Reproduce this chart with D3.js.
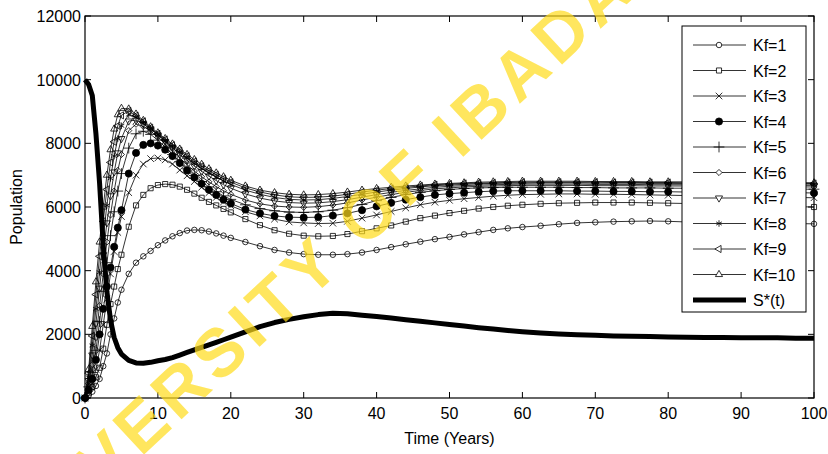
<!DOCTYPE html>
<html>
<head>
<meta charset="utf-8">
<script src="https://cdn.jsdelivr.net/npm/d3@7"></script>
<style>
  body { margin: 0; background: #fff; }
  svg { display: block; font-family: "Liberation Sans", Arial, Helvetica, sans-serif; }
</style>
</head>
<body>
<svg width="828" height="454"></svg>
<script>
// time points (years)
const T = [0,0.5,1,1.5,2,2.5,3,3.5,4,4.5,5,
  6,7,8,9,10,11,12,13,14,15,16,17,18,19,20,
  22,24,26,28,30,32,34,36,38,40,42,44,46,48,50,52,54,56,58,60,
  62.5,65,67.5,70,72.5,75,77.5,80,82.5,85,87.5,90,92.5,95,97.5,100];

const kf1 = [0,80,200,380,600,1000,1400,2000,2500,3000,3400,
  3900,4250,4450,4620,4800,4950,5080,5180,5260,5280,5270,5230,5170,5100,5030,
  4900,4770,4650,4570,4520,4500,4500,4520,4570,4650,4740,4830,4910,4990,5060,5140,5210,5280,5330,5370,
  5410,5460,5500,5520,5540,5550,5560,5550,5530,5520,5510,5500,5500,5490,5480,5470];
const kf2 = [0,150,350,650,950,1550,2300,2950,3500,4050,4500,
  5380,6050,6380,6590,6690,6720,6700,6640,6540,6420,6290,6160,6050,5940,5830,
  5620,5430,5270,5160,5100,5080,5090,5150,5240,5330,5420,5540,5650,5730,5810,5880,5950,6000,6040,6070,
  6100,6120,6130,6140,6140,6140,6130,6120,6110,6100,6080,6060,6050,6030,6010,6000];
const kf3 = [0,200,450,900,1500,2300,3100,3900,4600,5200,5700,
  6450,7000,7350,7520,7540,7480,7350,7160,6980,6800,6620,6450,6300,6160,6040,
  5850,5720,5620,5530,5500,5480,5490,5550,5650,5750,5860,5970,6070,6150,6210,6260,6300,6340,6370,6390,
  6400,6410,6410,6400,6400,6390,6380,6370,6360,6350,6340,6330,6320,6310,6300,6290];
const kf4 = [0,250,600,1200,2000,2800,3500,4100,4750,5350,5900,
  7050,7700,7950,8000,7930,7800,7600,7380,7150,6930,6730,6540,6380,6230,6110,
  5920,5800,5720,5680,5670,5680,5730,5800,5900,6020,6130,6230,6310,6380,6420,6450,6480,6500,6510,6510,
  6510,6510,6500,6500,6490,6490,6480,6480,6470,6470,6460,6460,6460,6450,6450,6440];
const kf5 = [0,350,800,1500,2400,3350,4250,5100,5850,6500,7050,
  7850,8300,8380,8280,8100,7880,7650,7420,7200,6990,6800,6630,6480,6350,6240,
  6070,5950,5880,5840,5830,5850,5900,5980,6080,6200,6300,6390,6460,6510,6550,6580,6600,6610,6620,6620,
  6620,6620,6610,6610,6600,6600,6600,6590,6590,6580,6580,6570,6570,6570,6560,6560];
const kf6 = [0,450,1050,1900,2900,3900,4900,5750,6500,7150,7650,
  8400,8600,8530,8380,8190,7980,7760,7540,7330,7130,6950,6790,6640,6510,6400,
  6220,6100,6030,6000,5990,6010,6060,6130,6220,6310,6390,6460,6520,6570,6600,6630,6650,6660,6670,6680,
  6680,6680,6680,6670,6670,6670,6660,6660,6660,6650,6650,6640,6640,6640,6630,6630];
const kf7 = [0,550,1350,2350,3450,4500,5500,6350,7100,7700,8150,
  8700,8730,8610,8450,8260,8060,7860,7660,7470,7290,7120,6970,6830,6700,6590,
  6410,6280,6190,6140,6120,6130,6170,6230,6310,6390,6460,6520,6570,6620,6650,6670,6690,6700,6710,6720,
  6720,6720,6720,6710,6710,6710,6700,6700,6700,6700,6690,6690,6690,6680,6680,6680];
const kf8 = [0,650,1650,2800,3950,5050,6050,6900,7600,8150,8550,
  8900,8820,8660,8470,8280,8090,7900,7720,7540,7370,7210,7070,6940,6820,6710,
  6530,6400,6300,6240,6220,6230,6270,6330,6400,6470,6530,6580,6630,6670,6690,6710,6730,6740,6750,6750,
  6760,6760,6760,6750,6750,6750,6740,6740,6740,6740,6730,6730,6730,6720,6720,6720];
const kf9 = [0,780,1950,3250,4450,5550,6550,7400,8050,8550,8880,
  9020,8870,8690,8490,8300,8120,7940,7770,7600,7430,7280,7140,7010,6890,6780,
  6600,6470,6380,6320,6300,6310,6340,6400,6470,6530,6580,6620,6660,6700,6720,6740,6750,6760,6770,6780,
  6780,6780,6780,6780,6770,6770,6770,6770,6760,6760,6760,6750,6750,6750,6740,6740];
const kf10 = [0,900,2250,3650,4900,6000,7000,7800,8450,8900,9100,
  9080,8920,8720,8520,8330,8150,7980,7820,7650,7490,7340,7200,7070,6950,6840,
  6660,6530,6450,6400,6380,6390,6420,6470,6530,6580,6620,6660,6690,6720,6740,6760,6780,6790,6800,6810,
  6810,6810,6810,6800,6800,6800,6790,6790,6790,6780,6780,6780,6770,6770,6770,6760];
const sStar = [10000,9850,9500,8300,6750,4800,3350,2450,1900,1580,1380,
  1180,1100,1090,1120,1170,1210,1270,1350,1430,1510,1590,1670,1750,1830,1910,
  2080,2240,2370,2470,2550,2620,2660,2650,2600,2560,2510,2460,2410,2360,2310,2260,2210,2170,2120,2080,
  2040,2010,1990,1970,1950,1940,1930,1920,1910,1900,1900,1890,1890,1890,1880,1880];

const legendLabels = ["Kf=1","Kf=2","Kf=3","Kf=4","Kf=5","Kf=6","Kf=7","Kf=8","Kf=9","Kf=10","S*(t)"];
const xTicks = [0,10,20,30,40,50,60,70,80,90,100];
const yTicks = [0,2000,4000,6000,8000,10000,12000];

const svg = d3.select("svg");
const pLeft = 85, pRight = 814, pTop = 16, pBottom = 398;

const x = d3.scaleLinear().domain([0, 100]).range([pLeft, pRight]);
const y = d3.scaleLinear().domain([0, 12000]).range([pBottom, pTop]);

// marker shapes, MATLAB style: o s x . + d v * < ^
const markers = [
  { sym: d3.symbolCircle, size: 24, fill: "none" },
  { sym: d3.symbolSquare, size: 26, fill: "none" },
  { sym: d3.symbolTimes || d3.symbolCross, size: 30, fill: "none" },
  { sym: d3.symbolCircle, size: 40, fill: "#000" },
  { sym: d3.symbolPlus || d3.symbolCross, size: 40, fill: "none" },
  { sym: d3.symbolDiamond2 || d3.symbolDiamond, size: 24, fill: "none" },
  { sym: d3.symbolTriangle, size: 22, fill: "none", rot: 180 },
  { sym: d3.symbolAsterisk || d3.symbolStar, size: 30, fill: "none" },
  { sym: d3.symbolTriangle, size: 22, fill: "none", rot: -90 },
  { sym: d3.symbolTriangle, size: 22, fill: "none", rot: 0 }
];

const series = [kf1, kf2, kf3, kf4, kf5, kf6, kf7, kf8, kf9, kf10];

const line = d3.line()
  .x(d => x(d[0]))
  .y(d => y(d[1]));

// markers are not clipped (MATLAB lets them cross the box)
const plot = svg.append("g");

series.forEach((vals, i) => {
  const pts = T.map((t, j) => [t, vals[j]]);
  const m = markers[i];
  const g = plot.append("g").attr("class", "kf" + (i + 1));
  g.append("path")
    .attr("d", line(pts))
    .attr("fill", "none")
    .attr("stroke", "#000")
    .attr("stroke-width", 0.8);
  g.selectAll("path.mk")
    .data(pts)
    .join("path")
    .attr("class", "mk")
    .attr("d", d3.symbol().type(m.sym).size(m.size))
    .attr("transform", d => `translate(${x(d[0])},${y(d[1])}) rotate(${m.rot || 0})`)
    .attr("fill", m.fill)
    .attr("stroke", "#000")
    .attr("stroke-width", 0.8);
});

// S*(t)
plot.append("path")
  .attr("d", line(T.map((t, j) => [t, sStar[j]])))
  .attr("fill", "none")
  .attr("stroke", "#000")
  .attr("stroke-width", 5)
  .attr("stroke-linejoin", "round");

// axes (box with inner ticks, MATLAB style)
const tickLen = 6;
const axisG = svg.append("g");
axisG.append("rect")
  .attr("x", pLeft).attr("y", pTop)
  .attr("width", pRight - pLeft).attr("height", pBottom - pTop)
  .attr("fill", "none").attr("stroke", "#000").attr("stroke-width", 1.2);

xTicks.forEach(v => {
  axisG.append("line").attr("x1", x(v)).attr("x2", x(v))
    .attr("y1", pBottom).attr("y2", pBottom - tickLen).attr("stroke", "#000");
  axisG.append("line").attr("x1", x(v)).attr("x2", x(v))
    .attr("y1", pTop).attr("y2", pTop + tickLen).attr("stroke", "#000");
  axisG.append("text").attr("x", x(v)).attr("y", pBottom + 21)
    .attr("text-anchor", "middle").attr("font-size", 16).text(v);
});
yTicks.forEach(v => {
  axisG.append("line").attr("x1", pLeft).attr("x2", pLeft + tickLen)
    .attr("y1", y(v)).attr("y2", y(v)).attr("stroke", "#000");
  axisG.append("line").attr("x1", pRight).attr("x2", pRight - tickLen)
    .attr("y1", y(v)).attr("y2", y(v)).attr("stroke", "#000");
  axisG.append("text").attr("x", pLeft - 4).attr("y", y(v) + 6)
    .attr("text-anchor", "end").attr("font-size", 16).text(v);
});

svg.append("text").attr("x", (pLeft + pRight) / 2).attr("y", 444)
  .attr("text-anchor", "middle").attr("font-size", 16).text("Time (Years)");
svg.append("text")
  .attr("transform", `translate(22, ${(pTop + pBottom) / 2}) rotate(-90)`)
  .attr("text-anchor", "middle").attr("font-size", 16).text("Population");

// legend
const lg = svg.append("g");
const lgX = 682, lgY = 26, lgW = 124, lgH = 286, rowH = 25.5;
lg.append("rect").attr("x", lgX).attr("y", lgY).attr("width", lgW).attr("height", lgH)
  .attr("fill", "#fff").attr("stroke", "#000").attr("stroke-width", 1);
legendLabels.forEach((lab, i) => {
  const cy = 45 + i * rowH;
  const isS = i === 10;
  lg.append("line").attr("x1", 693).attr("x2", 746).attr("y1", cy).attr("y2", cy)
    .attr("stroke", "#000").attr("stroke-width", isS ? 5 : 0.8);
  if (!isS) {
    const m = markers[i];
    lg.append("path")
      .attr("d", d3.symbol().type(m.sym).size(m.size)())
      .attr("transform", `translate(719,${cy}) rotate(${m.rot || 0})`)
      .attr("fill", m.fill === "none" ? "#fff" : m.fill)
      .attr("stroke", "#000").attr("stroke-width", 0.8);
  }
  lg.append("text").attr("x", 753).attr("y", cy + 6)
    .attr("font-size", 16).text(lab);
});

// watermark from the source document
svg.append("text")
  .attr("transform", "translate(-12,567) rotate(-43)")
  .attr("dominant-baseline", "central")
  .attr("font-size", 68)
  .attr("font-weight", "bold")
  .attr("letter-spacing", 6)
  .attr("fill", "#ffdb1a")
  .attr("fill-opacity", 0.7)
  .text("UNIVERSITY OF IBADAN");
</script>
</body>
</html>
